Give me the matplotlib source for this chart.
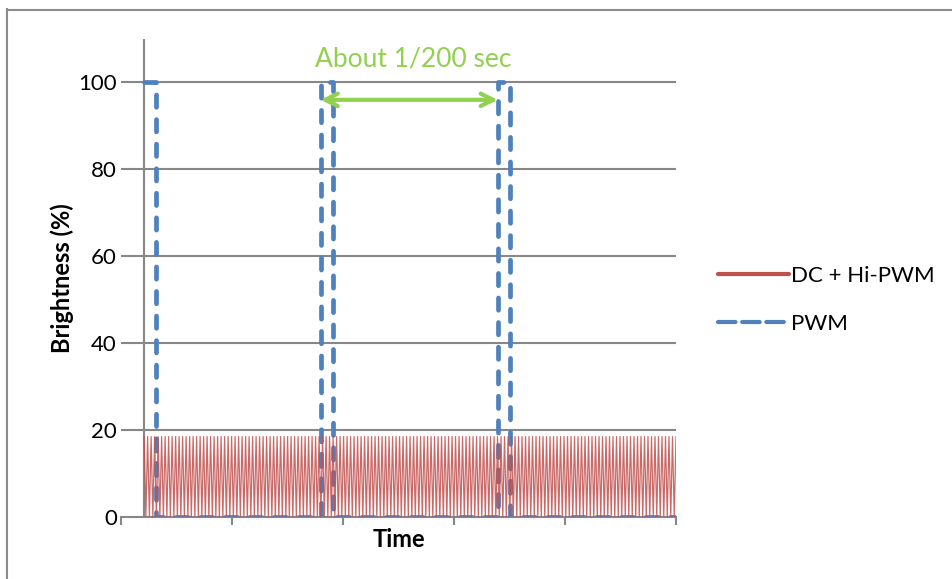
import numpy as np
import matplotlib.pyplot as plt
from matplotlib.lines import Line2D

# data (time in ms, brightness in %)
pwm_time = [0, 0.33, 0.33, 4.96, 4.96, 5.30, 5.30, 9.94, 9.94, 10.28, 10.28, 14.95]
pwm_level = [100, 100, 0, 0, 100, 100, 0, 0, 100, 100, 0, 0]

hi_pwm_levels = [18.5, 0]     # fast flicker between these two levels
hi_pwm_cycles = 152
t_start, t_end = 0, 14.95

arrow_from, arrow_to, arrow_y = 4.96, 9.94, 96
arrow_text = "About 1/200 sec"

yticks = [0, 20, 40, 60, 80, 100]

# build the fast flicker series from the two levels
dc_level = np.tile(hi_pwm_levels, hi_pwm_cycles)
dc_level = np.append(dc_level, hi_pwm_levels[0])
dc_time = np.linspace(t_start, t_end, len(dc_level))

RED = "#C0504D"
BLUE = "#4F81BD"
GREEN = "#92D050"
GRID = "#878787"

plt.rcParams['font.family'] = ['Lato', 'DejaVu Sans']

W, H = 953, 579
fig = plt.figure(figsize=(W / 100, H / 100), dpi=100)
ax = fig.add_axes([121 / W, 1 - 517 / H, (676 - 121) / W, (517 - 39) / H])

ax.set_xlim(-0.65, 14.95)
ax.set_ylim(0, 110)

for s in ax.spines.values():
    s.set_visible(False)
ax.spines['bottom'].set_visible(True)
ax.spines['bottom'].set_color(GRID)
ax.spines['bottom'].set_linewidth(1.5)

for y in yticks[1:]:
    ax.axhline(y, color=GRID, lw=1.5, zorder=1)
ax.axvline(0, color=GRID, lw=1.5, zorder=1)

ax.set_yticks(yticks)
ax.set_yticklabels([str(v) for v in yticks], fontsize=16)
ax.tick_params(axis='y', length=0, pad=3)
ax.set_xticks(np.linspace(-0.65, 14.95, 6))
ax.set_xticklabels([])
ax.tick_params(axis='x', length=6, width=1.5, color=GRID, direction='out')

ax.plot(pwm_time, pwm_level, color=BLUE, lw=3.4, dashes=(2.6, 2.6),
        dash_capstyle='round', solid_capstyle='round', zorder=3)
ax.plot(dc_time, dc_level, color=RED, lw=0.9, alpha=0.85, zorder=4)

ax.annotate("", xy=(arrow_to, arrow_y), xytext=(arrow_from, arrow_y),
            arrowprops=dict(arrowstyle="<->,head_length=0.9,head_width=0.45",
                            color=GREEN, lw=3, shrinkA=0, shrinkB=0), zorder=5)
ax.text((arrow_from + arrow_to) / 2 + 0.12, 105.3, arrow_text, color=GREEN,
        fontsize=19, ha='center', va='center')

ax.set_ylabel("Brightness (%)", fontsize=17, fontweight='bold')
ax.yaxis.set_label_coords((74 - 121) / (676 - 121), 0.5)
ax.set_xlabel("Time", fontsize=17, fontweight='bold')
ax.xaxis.set_label_coords(0.5, -(528 - 517) / (517 - 39))

handles = [Line2D([], [], color=RED, lw=3, solid_capstyle='round'),
           Line2D([], [], color=BLUE, lw=3, dashes=(4.2, 1.6), dash_capstyle='round')]
leg = fig.legend(handles, ["DC + Hi-PWM", "PWM"], loc='upper left',
                 bbox_to_anchor=(698 / W, 1 - 246 / H), frameon=False, fontsize=16,
                 handlelength=3.2, handletextpad=0.1, labelspacing=1.25)

# outer chart border (left and top edges visible)
fig.add_artist(Line2D([7.5 / W, 7.5 / W], [0, 1 - 9 / H], color="#8C8C8C", lw=1.5))
fig.add_artist(Line2D([7 / W, 1], [1 - 9.5 / H, 1 - 9.5 / H], color="#8C8C8C", lw=1.5))

fig.savefig("out.png", dpi=100)
